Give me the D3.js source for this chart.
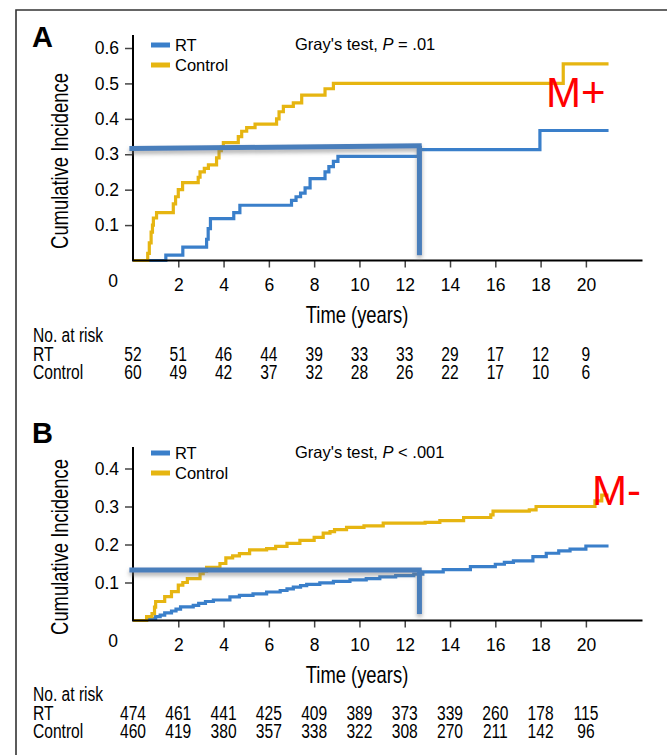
<!DOCTYPE html>
<html>
<head>
<meta charset="utf-8">
<script src="https://cdn.jsdelivr.net/npm/d3@7"></script>
<style>
  body { margin: 0; background: #fff; }
  svg { display: block; }
</style>
</head>
<body>
<div id="chart"></div>
<script>
// data: [years, cumulative incidence]
const rtA = [[0,0],[1.45,0.015],[2.2,0.038],[3.25,0.06],[3.32,0.09],[3.42,0.118],[4.45,0.135],[4.72,0.156],[7.0,0.17],[7.2,0.18],[7.4,0.19],[7.6,0.205],[7.82,0.231],[8.48,0.25],[8.65,0.265],[8.85,0.28],[9.05,0.294],[12.6,0.313],[17.97,0.367],[21,0.367]]
const controlA = [[0,0],[0.65,0.02],[0.72,0.05],[0.8,0.08],[0.86,0.1],[0.9,0.12],[1.04,0.135],[1.78,0.16],[1.88,0.18],[2.0,0.2],[2.19,0.22],[2.88,0.235],[2.96,0.25],[3.15,0.26],[3.33,0.27],[3.69,0.29],[3.8,0.31],[3.9,0.32],[3.99,0.333],[4.65,0.35],[4.8,0.365],[5.02,0.375],[5.39,0.385],[6.34,0.40],[6.45,0.42],[6.64,0.435],[7.08,0.445],[7.45,0.467],[8.48,0.485],[8.85,0.5],[19.0,0.555],[21,0.555]]

const rtB = [[0,0],[0.6,0.005],[1.0,0.01],[1.2,0.014],[1.4,0.02],[1.7,0.025],[1.9,0.03],[2.1,0.036],[2.66,0.04],[2.9,0.045],[3.2,0.05],[3.55,0.054],[4.28,0.062],[4.7,0.066],[5.3,0.07],[5.9,0.075],[6.5,0.079],[6.8,0.083],[7.08,0.088],[7.4,0.092],[7.67,0.095],[8.25,0.099],[8.85,0.103],[9.58,0.107],[10.3,0.11],[10.9,0.115],[11.6,0.118],[12.4,0.122],[12.8,0.128],[13.7,0.134],[14.9,0.142],[16.0,0.148],[16.4,0.153],[16.8,0.157],[17.66,0.168],[18.25,0.177],[18.8,0.183],[19.3,0.188],[20.0,0.196],[21,0.196]]
const controlB = [[0,0],[0.6,0.01],[0.84,0.018],[0.95,0.035],[1.0,0.05],[1.4,0.063],[1.7,0.076],[2.0,0.093],[2.2,0.1],[2.4,0.11],[2.96,0.123],[3.1,0.13],[3.25,0.14],[3.84,0.15],[4.1,0.165],[4.4,0.17],[4.7,0.176],[5.15,0.186],[5.9,0.189],[6.3,0.195],[6.8,0.203],[7.37,0.211],[8.0,0.219],[8.4,0.23],[8.7,0.234],[8.9,0.239],[9.43,0.245],[10.2,0.249],[11.05,0.256],[12.9,0.258],[13.55,0.263],[14.6,0.271],[15.8,0.278],[15.9,0.288],[17.5,0.291],[17.8,0.30],[20.4,0.315],[20.7,0.33],[21,0.33]]

const xTicks = [0, 2, 4, 6, 8, 10, 12, 14, 16, 18, 20]
const yTicksA = [0.1, 0.2, 0.3, 0.4, 0.5, 0.6]
const yTicksB = [0.1, 0.2, 0.3, 0.4]

const riskRtA = [52, 51, 46, 44, 39, 33, 33, 29, 17, 12, 9]
const riskControlA = [60, 49, 42, 37, 32, 28, 26, 22, 17, 10, 6]
const riskRtB = [474, 461, 441, 425, 409, 389, 373, 339, 260, 178, 115]
const riskControlB = [460, 419, 380, 357, 338, 322, 308, 270, 211, 142, 96]

// hand-drawn highlight lines: [year, incidence] pairs
const markA = { h: [[-0.16, 0.316], [12.75, 0.324]], v: [[12.65, 0.324], [12.65, 0.015]] }
const markB = { h: [[-0.16, 0.133], [12.75, 0.133]], v: [[12.65, 0.133], [12.65, 0.017]] }

const width = 667
const height = 755
const blue = "#3a7fca"
const gold = "#e6b511"
const markColor = "#4a7ebb"
const font = "'Liberation Sans', Arial, sans-serif"
const squeeze = 0.8   // condensed type faked by horizontal scaling

const svg = d3.select("#chart").append("svg")
  .attr("width", width)
  .attr("height", height)
  .style("font-family", font)

svg.append("defs").append("filter")
    .attr("id", "shadow")
    .attr("x", "-20%").attr("y", "-50%")
    .attr("width", "140%").attr("height", "300%")
  .append("feDropShadow")
    .attr("dx", 0).attr("dy", 3)
    .attr("stdDeviation", 2)
    .attr("flood-color", "#777")
    .attr("flood-opacity", 0.6)

// frame
svg.append("path")
  .attr("d", "M16," + height + "V10H" + width)
  .attr("fill", "none")
  .attr("stroke", "#333")
  .attr("stroke-width", 1.6)

const x = d3.scaleLinear().domain([0, 22.5]).range([133, 642.5])

function narrow(g, txt, tx, ty, size, anchor, rotate) {
  return g.append("text")
    .text(txt)
    .attr("text-anchor", anchor || "start")
    .attr("font-size", size)
    .attr("transform", "translate(" + tx + "," + ty + ")" + (rotate ? "rotate(-90)" : "") + "scale(" + squeeze + ",1)")
}

function panel(opt) {
  const y = d3.scaleLinear().domain([0, opt.yMax]).range([opt.bottom, opt.top])
  const g = svg.append("g")

  // panel letter
  g.append("text")
    .text(opt.letter)
    .attr("x", 32).attr("y", opt.letterY)
    .attr("font-size", 29)
    .attr("font-weight", "bold")

  // curves
  const line = d3.line()
    .x(d => x(d[0]))
    .y(d => y(d[1]))
    .curve(d3.curveStepAfter)

  g.append("path").datum(opt.rt)
    .attr("d", line)
    .attr("fill", "none")
    .attr("stroke", blue)
    .attr("stroke-width", 3.2)

  g.append("path").datum(opt.control)
    .attr("d", line)
    .attr("fill", "none")
    .attr("stroke", gold)
    .attr("stroke-width", 3.2)

  // axes
  const yAxis = d3.axisLeft(y).tickValues(opt.yTicks).tickFormat(d3.format(".1f")).tickSize(8).tickPadding(6)
  const ya = g.append("g").attr("transform", "translate(" + x(0) + ",0)").call(yAxis)
    .attr("font-family", font).attr("font-size", 17.5)
  ya.select(".domain").remove()
  ya.selectAll(".tick line").attr("stroke", "#444").attr("stroke-width", 1.5)
  ya.selectAll(".tick text").attr("fill", "#000")

  const xAxis = d3.axisBottom(x).tickValues(xTicks.slice(1)).tickSize(7).tickPadding(11)
  const xa = g.append("g").attr("transform", "translate(0," + y(0) + ")").call(xAxis)
    .attr("font-family", font).attr("font-size", 17.5)
  xa.select(".domain").remove()
  xa.selectAll(".tick line").attr("stroke", "#444").attr("stroke-width", 1.5)
  xa.selectAll(".tick text").attr("fill", "#000")

  g.append("text")
    .text("0")
    .attr("x", x(0) - 20)
    .attr("y", y(0) + 26)
    .attr("text-anchor", "middle")
    .attr("font-size", 17.5)

  g.append("path")
    .attr("d", "M" + x(0) + "," + opt.axisTop + "V" + y(0) + "H" + x.range()[1])
    .attr("fill", "none")
    .attr("stroke", "#000")
    .attr("stroke-width", 2)

  // axis titles
  narrow(g, "Cumulative Incidence", 68, opt.yTitle, 23, "middle", true)
  narrow(g, "Time (years)", 357, y(0) + 62, 23, "middle")

  // legend
  const legend = [["RT", blue], ["Control", gold]]
  legend.forEach((l, i) => {
    const ly = opt.legendY + i * 20
    g.append("line")
      .attr("x1", 151).attr("x2", 170)
      .attr("y1", ly).attr("y2", ly)
      .attr("stroke", l[1])
      .attr("stroke-width", 5)
    g.append("text")
      .text(l[0])
      .attr("x", 175).attr("y", ly + 6)
      .attr("font-size", 16.5)
  })

  // test label
  const gray = g.append("text")
    .attr("x", 295).attr("y", opt.legendY + 5)
    .attr("font-size", 16.5)
  gray.append("tspan").text("Gray's test, ")
  gray.append("tspan").text("P").attr("font-style", "italic")
  gray.append("tspan").text(opt.pText)

  // highlight lines
  const mark = g.append("g").attr("filter", "url(#shadow)")
  ;[opt.mark.h, opt.mark.v].forEach(seg => {
    mark.append("line")
      .attr("x1", x(seg[0][0])).attr("y1", y(seg[0][1]))
      .attr("x2", x(seg[1][0])).attr("y2", y(seg[1][1]))
      .attr("stroke", markColor)
      .attr("stroke-width", 5)
  })

  // red tag
  g.append("text")
    .text(opt.tag)
    .attr("x", opt.tagX).attr("y", opt.tagY)
    .attr("font-size", 42)
    .attr("fill", "#ff0000")

  // number at risk
  const table = g.append("g")
  narrow(table, "No. at risk", 33, opt.tableY, 19.5)
  narrow(table, "RT", 33, opt.tableY + 19, 19.5)
  narrow(table, "Control", 33, opt.tableY + 37, 19.5)

  opt.riskRt.forEach((d, i) => narrow(table, d, x(xTicks[i]), opt.tableY + 19, 19.5, "middle"))
  opt.riskControl.forEach((d, i) => narrow(table, d, x(xTicks[i]), opt.tableY + 37, 19.5, "middle"))
}

panel({
  letter: "A", letterY: 47,
  rt: rtA, control: controlA,
  yMax: 0.6, top: 48, bottom: 260.5, axisTop: 35,
  yTicks: yTicksA, yTitle: 161,
  legendY: 45, pText: " = .01",
  mark: markA,
  tag: "M+", tagX: 546, tagY: 107,
  tableY: 342, riskRt: riskRtA, riskControl: riskControlA
})

panel({
  letter: "B", letterY: 443,
  rt: rtB, control: controlB,
  yMax: 0.4, top: 468.5, bottom: 620.5, axisTop: 447,
  yTicks: yTicksB, yTitle: 547,
  legendY: 453, pText: " < .001",
  mark: markB,
  tag: "M-", tagX: 592, tagY: 505,
  tableY: 701, riskRt: riskRtB, riskControl: riskControlB
})
</script>
</body>
</html>
